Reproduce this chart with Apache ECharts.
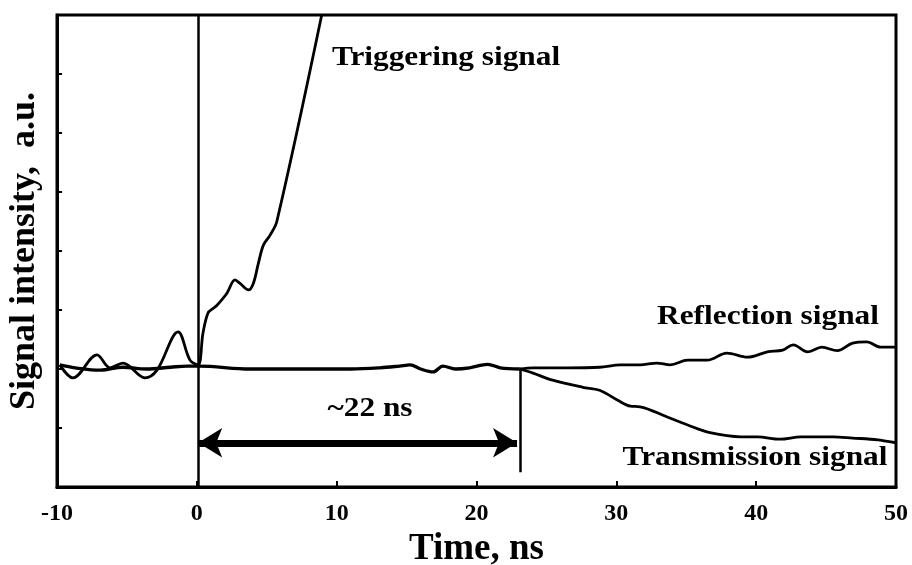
<!DOCTYPE html>
<html>
<head>
<meta charset="utf-8">
<script src="https://cdn.jsdelivr.net/npm/echarts@6/dist/echarts.min.js"></script>
<style>
  html, body { margin: 0; padding: 0; background: #fff; }
  #chart { width: 912px; height: 565px; }
</style>
</head>
<body>
<div id="chart"></div>
<script>
// Time axis (ns) and arbitrary-unit intensity axis
const xTicks = [-10, 0, 10, 20, 30, 40, 50];
const yRange = [0, 8];

// Common trace shared by reflection and transmission until the pulse arrives
const baselineT = [-9.8, -8.7, -6.9, -5.3, -3.6, -1.9, -0.7, 0.16, 3.8, 7.4, 11.0, 13.1, 14.5, 15.25, 16.0, 16.9, 17.6, 18.5, 19.5, 20.8, 21.7, 23.1];
const baselineV = [2.07, 2.02, 1.98, 2.03, 2.00, 2.03, 2.05, 2.05, 2.00, 2.00, 2.00, 2.02, 2.05, 2.07, 2.00, 1.95, 2.05, 2.00, 2.02, 2.08, 2.02, 2.00];

// Reflection signal after the arrival
const reflectionT = [23.1, 24.05, 26.5, 28.8, 30.3, 31.7, 32.9, 33.85, 35.1, 36.5, 37.9, 39.4, 40.8, 41.9, 42.65, 43.7, 44.7, 45.8, 46.9, 47.9, 48.9, 50.0];
const reflectionV = [2.00, 2.02, 2.02, 2.03, 2.07, 2.07, 2.10, 2.07, 2.15, 2.15, 2.27, 2.20, 2.29, 2.32, 2.41, 2.29, 2.37, 2.31, 2.44, 2.46, 2.37, 2.37];

// Transmission signal after the arrival
const transmissionT = [23.1, 24.05, 25.3, 27.6, 28.8, 30.1, 31.0, 31.7, 33.6, 35.1, 36.7, 38.9, 40.1, 41.7, 43.2, 45.5, 46.9, 48.7, 50.0];
const transmissionV = [2.00, 1.93, 1.82, 1.69, 1.64, 1.47, 1.37, 1.36, 1.19, 1.05, 0.92, 0.85, 0.85, 0.81, 0.85, 0.85, 0.83, 0.80, 0.75];

// Triggering signal
const triggerT = [-9.8, -8.86, -7.14, -6.21, -5.28, -3.71, -2.85, -1.34, -0.49, 0.09, 0.44, 0.80, 1.18, 1.44, 2.14, 2.73, 3.09, 3.69, 4.04, 4.40, 4.76, 5.24, 5.72, 8.93];
const triggerV = [2.07, 1.85, 2.24, 2.02, 2.10, 1.85, 1.98, 2.63, 2.15, 2.07, 2.61, 2.95, 3.03, 3.08, 3.28, 3.51, 3.45, 3.34, 3.45, 3.79, 4.10, 4.27, 4.50, 8.0];

// Delay marker: trigger onset, pulse arrival, arrow height and foot of the arrival line
const onsetNs = 0.1;
const arrivalNs = 23.1;
const arrowLevel = 0.75;
const arrivalFoot = 0.25;
const arrivalTop = 2.0;

const zip = (t, v) => t.map((x, i) => [x, v[i]]);
const serif = '"Liberation Serif", "Times New Roman", serif';

const chart = echarts.init(document.getElementById('chart'), null, { renderer: 'canvas' });

const lineBase = {
  type: 'line',
  showSymbol: false,
  smooth: 0.35,
  lineStyle: { color: '#000', width: 2.8 },
  silent: true
};

const annotation = (text, x, y) => ({
  type: 'text', x: x, y: y, scaleX: 1.16, silent: true,
  style: { text: text, font: 'bold 27px ' + serif, fill: '#000', align: 'center', verticalAlign: 'middle' }
});

chart.setOption({
  animation: false,
  backgroundColor: '#fff',
  grid: {
    left: 57, right: 16, top: 15, bottom: 78,
    containLabel: false,
    outerBoundsMode: 'none',
    show: true, borderColor: '#000', borderWidth: 3
  },
  xAxis: {
    type: 'value',
    min: xTicks[0], max: xTicks[xTicks.length - 1], interval: 10,
    name: 'Time, ns',
    nameLocation: 'middle',
    nameGap: 44,
    nameTextStyle: { fontFamily: serif, fontWeight: 'bold', fontSize: 37, color: '#000' },
    axisLine: { onZero: false, lineStyle: { color: '#000', width: 3 } },
    axisTick: { inside: true, length: 6, lineStyle: { color: '#000', width: 2 } },
    axisLabel: { margin: 15, fontFamily: serif, fontWeight: 'bold', fontSize: 24, color: '#000' },
    splitLine: { show: false }
  },
  yAxis: {
    type: 'value',
    min: yRange[0], max: yRange[1], interval: 1,
    name: 'Signal intensity,  a.u.',
    nameLocation: 'middle',
    nameGap: 14,
    nameRotate: 90,
    nameTextStyle: { fontFamily: serif, fontWeight: 'bold', fontSize: 36, color: '#000' },
    axisLine: { onZero: false, lineStyle: { color: '#000', width: 3 } },
    axisTick: { inside: true, length: 5, lineStyle: { color: '#000', width: 2 } },
    axisLabel: { show: false },
    splitLine: { show: false }
  },
  series: [
    Object.assign({}, lineBase, {
      name: 'Baseline',
      data: zip(baselineT, baselineV),
      lineStyle: { color: '#000', width: 3.3 },
      markLine: {
        silent: true,
        symbol: ['none', 'none'],
        label: { show: false },
        lineStyle: { color: '#000', width: 2.5, type: 'solid' },
        data: [
          [{ coord: [onsetNs, yRange[0]] }, { coord: [onsetNs, yRange[1]] }],
          [{ coord: [arrivalNs, arrivalTop] }, { coord: [arrivalNs, arrivalFoot] }]
        ]
      }
    }),
    Object.assign({}, lineBase, { name: 'Reflection signal', data: zip(reflectionT, reflectionV) }),
    Object.assign({}, lineBase, {
      name: 'Transmission signal',
      data: zip(transmissionT, transmissionV),
      markLine: {
        silent: true,
        symbol: ['arrow', 'arrow'],
        symbolSize: [22, 24],
        label: { show: false },
        lineStyle: { color: '#000', width: 7, type: 'solid' },
        itemStyle: { color: '#000' },
        data: [
          [{ coord: [onsetNs, arrowLevel] }, { coord: [arrivalNs - 0.2, arrowLevel] }]
        ]
      }
    }),
    Object.assign({}, lineBase, { name: 'Triggering signal', data: zip(triggerT, triggerV) })
  ],
  graphic: [
    annotation('Triggering signal', 446, 58),
    annotation('Reflection signal', 768, 317),
    annotation('Transmission signal', 755, 458),
    annotation('~22 ns', 370, 409)
  ]
});
</script>
</body>
</html>
